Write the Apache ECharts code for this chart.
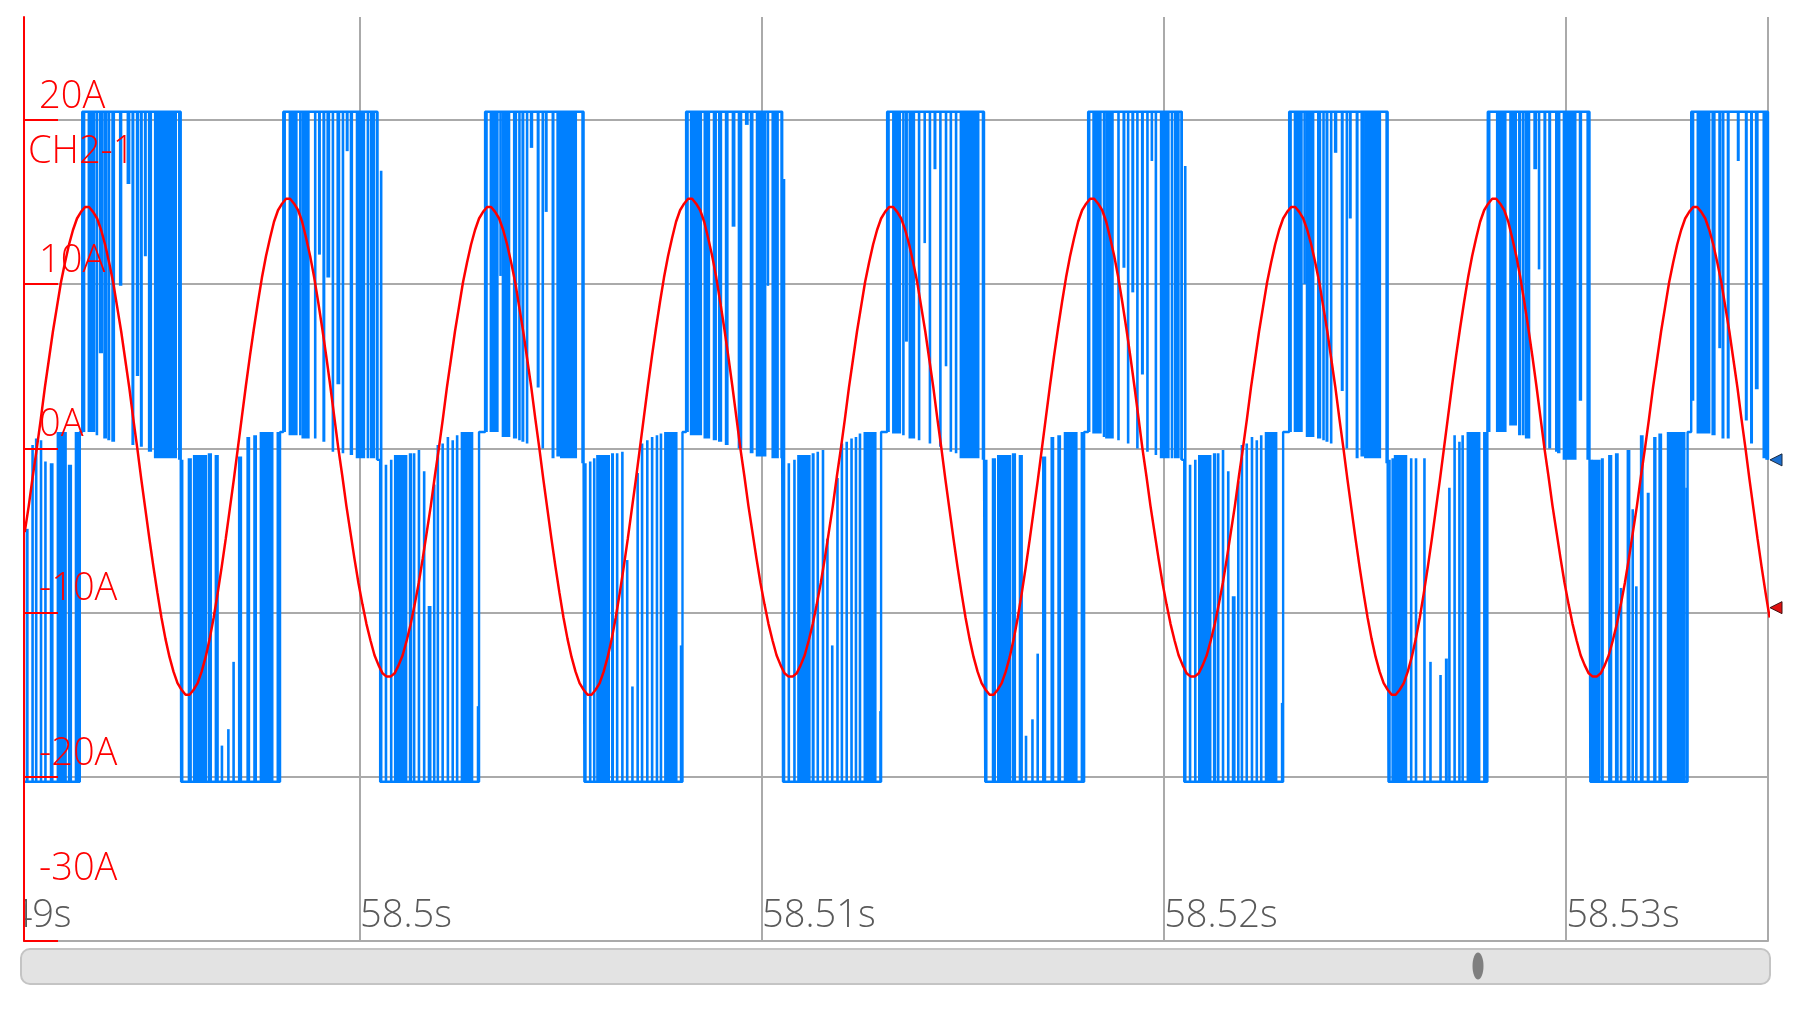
<!DOCTYPE html>
<html>
<head>
<meta charset="utf-8">
<script src="https://cdn.jsdelivr.net/npm/echarts@6/dist/echarts.min.js"></script>
<style>
html,body{margin:0;padding:0;background:#ffffff;}
#chart{width:1804px;height:1014px;}
</style>
</head>
<body>
<div id="chart"></div>
<script>
// ---- axes (time in ms after 58.49 s) ----
const xTickValues = [0, 10, 20, 30, 40];
const xTickLabels = ['58.49s', '58.5s', '58.51s', '58.52s', '58.53s'];
const yTickValues = [-30, -20, -10, 0, 10, 20];
const yTickLabels = ['-30A', '-20A', '-10A', '0A', '10A', '20A'];
const timeMin = 0, timeMax = 45.02;
const ampMin = -30, ampMax = 26.27;

// ---- CH2-1 (red) sampled current, one value every 0.1 ms from 1.66 ms ----
const ch2Start = 1.66, ch2Step = 0.1;
const ch2Current = [
  -5.1,-3.5,-1.7,
  0,1.8,3.7,5.4,7.1,8.6,10.1,11.3,12.4,13.3,14.0,14.4,14.7,14.7,14.4,14.0,13.3,12.4,11.3,10.1,8.6,7.1,5.4,3.7,1.8,
  0,-1.9,-3.7,-5.5,-7.2,-8.8,-10.3,-11.6,-12.7,-13.6,-14.3,-14.7,-15.0,-15.0,-14.7,-14.3,-13.6,-12.7,-11.6,-10.3,-8.8,-7.2,-5.5,-3.7,-1.9,
  0,1.9,3.8,5.6,7.3,8.9,10.4,11.7,12.8,13.8,14.5,14.9,15.2,15.2,14.9,14.5,13.8,12.8,11.7,10.4,8.9,7.3,5.6,3.8,1.9,
  0,-1.7,-3.5,-5.1,-6.7,-8.2,-9.5,-10.7,-11.7,-12.6,-13.2,-13.7,-13.9,-13.9,-13.7,-13.2,-12.6,-11.7,-10.7,-9.5,-8.2,-6.7,-5.1,-3.5,-1.7,
  0,1.8,3.7,5.4,7.1,8.6,10.1,11.3,12.4,13.3,14.0,14.4,14.7,14.7,14.4,14.0,13.3,12.4,11.3,10.1,8.6,7.1,5.4,3.7,1.8,
  0,-1.9,-3.7,-5.5,-7.2,-8.8,-10.3,-11.6,-12.7,-13.6,-14.3,-14.7,-15.0,-15.0,-14.7,-14.3,-13.6,-12.7,-11.6,-10.3,-8.8,-7.2,-5.5,-3.7,-1.9,
  0,1.9,3.8,5.6,7.3,8.9,10.4,11.7,12.8,13.8,14.5,14.9,15.2,15.2,14.9,14.5,13.8,12.8,11.7,10.4,8.9,7.3,5.6,3.8,1.9,
  0,-1.7,-3.5,-5.1,-6.7,-8.2,-9.5,-10.7,-11.7,-12.6,-13.2,-13.7,-13.9,-13.9,-13.7,-13.2,-12.6,-11.7,-10.7,-9.5,-8.2,-6.7,-5.1,-3.5,-1.7,
  0,1.8,3.7,5.4,7.1,8.6,10.1,11.3,12.4,13.3,14.0,14.4,14.7,14.7,14.4,14.0,13.3,12.4,11.3,10.1,8.6,7.1,5.4,3.7,1.8,
  0,-1.9,-3.7,-5.5,-7.2,-8.8,-10.3,-11.6,-12.7,-13.6,-14.3,-14.7,-15.0,-15.0,-14.7,-14.3,-13.6,-12.7,-11.6,-10.3,-8.8,-7.2,-5.5,-3.7,-1.9,
  0,1.9,3.8,5.6,7.3,8.9,10.4,11.7,12.8,13.8,14.5,14.9,15.2,15.2,14.9,14.5,13.8,12.8,11.7,10.4,8.9,7.3,5.6,3.8,1.9,
  0,-1.7,-3.5,-5.1,-6.7,-8.2,-9.5,-10.7,-11.7,-12.6,-13.2,-13.7,-13.9,-13.9,-13.7,-13.2,-12.6,-11.7,-10.7,-9.5,-8.2,-6.7,-5.1,-3.5,-1.7,
  0,1.8,3.7,5.4,7.1,8.6,10.1,11.3,12.4,13.3,14.0,14.4,14.7,14.7,14.4,14.0,13.3,12.4,11.3,10.1,8.6,7.1,5.4,3.7,1.8,
  0,-1.9,-3.7,-5.5,-7.2,-8.8,-10.3,-11.6,-12.7,-13.6,-14.3,-14.7,-15.0,-15.0,-14.7,-14.3,-13.6,-12.7,-11.6,-10.3,-8.8,-7.2,-5.5,-3.7,-1.9,
  0,1.9,3.8,5.6,7.3,8.9,10.4,11.7,12.8,13.8,14.5,14.9,15.2,15.2,14.9,14.5,13.8,12.8,11.7,10.4,8.9,7.3,5.6,3.8,1.9,
  0,-1.7,-3.5,-5.1,-6.7,-8.2,-9.5,-10.7,-11.7,-12.6,-13.2,-13.7,-13.9,-13.9,-13.7,-13.2,-12.6,-11.7,-10.7,-9.5,-8.2,-6.7,-5.1,-3.5,-1.7,
  0,1.8,3.7,5.4,7.1,8.6,10.1,11.3,12.4,13.3,14.0,14.4,14.7,14.7,14.4,14.0,13.3,12.4,11.3,10.1,8.6,7.1,5.4,3.7,1.8,
  0,-1.9,-3.7,-5.5,-7.2,-8.8,-10.3
];

// ---- blue switching current: bursts [start ms, end ms, rail level A] ----
const blueBursts = [
  [1.64,3.03,-20.3],[3.09,5.54,20.5],[5.55,8.01,-20.3],[8.09,10.43,20.5],[10.50,12.96,-20.3],
  [13.11,15.56,20.5],[15.58,18.02,-20.3],[18.11,20.50,20.5],[20.52,22.96,-20.3],[23.11,25.52,20.5],
  [25.55,28.01,-20.3],[28.11,30.44,20.5],[30.50,32.96,-20.3],[33.11,35.56,20.5],[35.58,38.04,-20.3],
  [38.05,40.58,20.5],[40.60,43.02,-20.3],[43.11,45.02,20.5]
];
// level between consecutive bursts, and at the end of the record
const blueGapLevels = [1.0,-0.7,1.0,-0.7,1.0,-0.9,1.0,-0.6,1.0,-0.7,1.0,-0.7,1.0,-0.9,1.0,-0.7,1.0];
const blueEndLevel = -0.7;
// switching stripes [from ms, to ms, level reached A] (from the burst rail)
const blueStripes = [
  // N0
  [1.69,1.75,-4.9],[1.83,1.86,0.2],[1.92,1.96,0.6],[2.04,2.08,0.5],[2.15,2.19,-0.8],[2.29,2.37,-0.9],[2.46,2.70,1.0],[2.74,2.83,-1.0],[2.91,3.03,1.0],
  // P1
  [3.09,3.16,1.0],[3.23,3.41,1.0],[3.43,3.47,0.8],[3.51,3.60,5.8],[3.62,3.70,0.6],[3.72,3.78,0.5],[3.82,3.90,0.4],[4.01,4.08,9.9],[4.20,4.28,16.1],[4.32,4.38,0.2],[4.43,4.50,4.4],[4.53,4.59,0.1],[4.63,4.69,11.7],[4.73,4.82,-0.2],[4.88,5.44,-0.6],[5.48,5.54,-0.7],
  // N1
  [5.55,5.60,-0.7],[5.72,5.81,-0.6],[5.85,6.19,-0.4],[6.22,6.31,-0.3],[6.39,6.48,-0.4],[6.54,6.58,-18.1],[6.70,6.74,-17.1],[6.83,6.87,-13.0],[6.97,7.06,-0.5],[7.18,7.26,0.7],[7.35,7.43,0.8],[7.51,7.84,1.0],[7.93,8.01,1.0],
  // P2
  [8.09,8.15,1.0],[8.23,8.44,0.8],[8.49,8.53,0.8],[8.55,8.74,0.6],[8.86,8.90,0.6],[8.96,9.02,11.8],[9.07,9.13,0.4],[9.17,9.25,10.4],[9.30,9.34,-0.2],[9.42,9.50,3.9],[9.55,9.60,-0.3],[9.65,9.71,18.1],[9.75,9.82,-0.4],[9.90,10.12,-0.6],[10.17,10.22,-0.6],[10.25,10.37,-0.6],[10.40,10.43,-0.7],
  // N2
  [10.50,10.55,16.9],[10.62,10.67,-1.0],[10.75,10.80,-0.7],[10.85,11.17,-0.4],[11.22,11.29,-0.3],[11.32,11.37,-0.3],[11.44,11.49,-0.1],[11.57,11.62,-1.4],[11.69,11.77,-9.6],[11.82,11.87,-2.2],[11.91,11.95,0.2],[12.03,12.07,0.3],[12.16,12.21,0.7],[12.28,12.32,0.5],[12.39,12.44,0.8],[12.51,12.81,1.0],[12.91,12.96,-15.7],
  // P3
  [13.11,13.17,1.0],[13.23,13.44,1.0],[13.47,13.50,10.5],[13.53,13.73,0.7],[13.81,13.90,0.6],[13.94,13.97,0.5],[14.02,14.08,0.4],[14.13,14.16,0.3],[14.23,14.30,18.3],[14.40,14.46,3.7],[14.52,14.55,0.0],[14.60,14.66,14.4],[14.77,14.83,-0.6],[14.89,14.98,-0.5],[14.98,15.39,-0.6],[15.51,15.56,-0.9],
  // N3
  [15.58,15.62,-0.9],[15.70,15.74,-0.8],[15.80,15.84,-0.6],[15.88,16.21,-0.4],[16.25,16.31,-0.3],[16.37,16.42,-0.3],[16.50,16.54,-0.2],[16.62,16.66,-6.8],[16.75,16.79,-14.5],[16.88,16.92,-1.5],[16.99,17.03,0.3],[17.12,17.16,0.5],[17.24,17.29,0.7],[17.36,17.40,0.8],[17.46,17.50,0.9],[17.57,17.89,1.0],[17.96,18.00,-12.0],
  // P4
  [18.11,18.17,1.0],[18.21,18.50,0.8],[18.55,18.70,0.6],[18.78,18.87,0.5],[18.91,19.00,0.4],[19.08,19.16,0.2],[19.25,19.33,13.5],[19.40,19.50,0.0],[19.58,19.66,19.7],[19.70,19.78,-0.3],[19.85,20.10,-0.5],[20.12,20.17,9.9],[20.24,20.41,-0.6],[20.46,20.50,-0.6],
  // N4
  [20.52,20.57,16.4],[20.64,20.68,-0.9],[20.78,20.82,-0.7],[20.88,21.20,-0.4],[21.24,21.30,-0.3],[21.36,21.40,-0.2],[21.49,21.53,-0.1],[21.60,21.64,-5.5],[21.72,21.76,-12.0],[21.85,21.89,-1.8],[21.96,22.00,0.3],[22.08,22.12,0.4],[22.20,22.25,0.6],[22.31,22.35,0.7],[22.41,22.45,0.9],[22.53,22.84,1.0],[22.92,22.96,-16.0],
  // P5
  [23.11,23.17,1.0],[23.24,23.45,0.9],[23.49,23.52,0.8],[23.56,23.62,6.5],[23.65,23.80,0.6],[23.88,23.93,0.5],[24.02,24.07,12.5],[24.15,24.19,0.3],[24.27,24.33,17.0],[24.41,24.46,0.1],[24.55,24.60,5.0],[24.67,24.72,-0.2],[24.80,24.85,-0.3],[24.92,25.40,-0.6],[25.47,25.52,-0.7],
  // N5
  [25.55,25.60,-0.7],[25.72,25.81,-0.6],[25.85,26.19,-0.4],[26.22,26.31,-0.3],[26.39,26.48,-0.4],[26.54,26.58,-17.5],[26.70,26.74,-16.5],[26.83,26.87,-12.5],[26.97,27.06,-0.5],[27.18,27.26,0.7],[27.35,27.43,0.8],[27.51,27.84,1.0],[27.93,28.01,1.0],
  // P6
  [28.11,28.16,1.0],[28.22,28.44,0.9],[28.48,28.51,0.7],[28.54,28.74,0.6],[28.84,28.88,0.5],[28.97,29.03,11.0],[29.08,29.12,0.3],[29.19,29.25,9.5],[29.31,29.35,0.0],[29.43,29.49,4.5],[29.56,29.60,-0.2],[29.67,29.72,17.5],[29.77,29.82,-0.4],[29.90,30.13,-0.6],[30.17,30.22,-0.6],[30.25,30.38,-0.6],[30.41,30.44,-0.7],
  // N6
  [30.50,30.55,17.2],[30.62,30.67,-1.0],[30.75,30.80,-0.7],[30.85,31.17,-0.4],[31.22,31.29,-0.3],[31.32,31.37,-0.3],[31.44,31.49,-0.1],[31.57,31.62,-1.4],[31.69,31.77,-9.0],[31.82,31.87,-2.0],[31.91,31.95,0.2],[32.03,32.07,0.3],[32.16,32.21,0.7],[32.28,32.32,0.5],[32.39,32.44,0.8],[32.51,32.81,1.0],[32.91,32.96,-15.5],
  // P7
  [33.11,33.17,1.0],[33.23,33.44,1.0],[33.47,33.50,10.0],[33.53,33.73,0.7],[33.81,33.90,0.6],[33.94,33.97,0.5],[34.02,34.08,0.4],[34.13,34.16,0.3],[34.23,34.30,18.0],[34.40,34.46,3.5],[34.52,34.55,0.0],[34.60,34.66,14.0],[34.77,34.83,-0.6],[34.89,34.98,-0.5],[34.98,35.39,-0.6],[35.51,35.56,-0.9],
  // N7
  [35.58,35.62,-0.7],[35.66,35.70,-0.6],[35.72,36.04,-0.4],[36.12,36.16,-0.6],[36.24,36.29,-0.6],[36.45,36.49,-0.6],[36.60,36.64,-13.0],[36.85,36.89,-13.8],[36.99,37.05,-12.8],[37.07,37.11,-2.4],[37.20,37.24,0.8],[37.32,37.36,0.4],[37.40,37.45,0.8],[37.53,37.86,1.0],[37.94,38.04,1.0],
  // P8
  [38.05,38.11,1.0],[38.26,38.51,1.0],[38.59,38.77,1.4],[38.81,38.87,0.8],[38.90,38.96,0.8],[38.98,39.10,0.6],[39.19,39.27,17.0],[39.30,39.35,10.9],[39.44,39.50,0.0],[39.56,39.62,0.0],[39.73,39.77,-0.2],[39.78,39.85,-0.3],[39.92,40.25,-0.7],[40.32,40.39,2.9],[40.51,40.58,-0.7],
  // N8
  [40.60,40.64,-0.7],[40.64,40.85,-0.7],[40.87,40.93,-0.6],[41.05,41.14,-0.4],[41.22,41.30,-0.3],[41.34,41.38,-8.5],[41.51,41.59,-0.1],[41.63,41.66,-3.7],[41.72,41.77,-8.4],[41.84,41.92,0.8],[42.01,42.07,-2.7],[42.17,42.24,0.7],[42.30,42.38,0.9],[42.51,42.96,1.0],[42.97,43.02,-2.4],
  // P9
  [43.13,43.18,2.9],[43.25,43.58,0.9],[43.62,43.71,0.8],[43.79,43.85,6.1],[43.87,43.93,0.6],[44.00,44.06,0.6],[44.25,44.31,17.5],[44.45,44.51,1.7],[44.58,44.64,0.3],[44.70,44.78,3.6],[44.89,44.98,-0.6],[44.96,45.02,-0.7]
];

// ---- build series data ----
const BLUE = '#0080ff', RED = '#ff0000', GRID = '#aaaaaa';
const FONT = '"Open Sans", "Noto Sans", sans-serif';

const redData = ch2Current.map((v, i) => [Math.round((ch2Start + i * ch2Step) * 1000) / 1000, v]);
function redAt(t) {
  for (let i = 1; i < redData.length; i++) {
    if (redData[i][0] >= t) {
      const a = redData[i - 1], b = redData[i];
      return a[1] + (b[1] - a[1]) * (t - a[0]) / (b[0] - a[0]);
    }
  }
  return redData[redData.length - 1][1];
}

const envelope = [];
blueBursts.forEach((b, i) => {
  envelope.push([b[0], b[2]], [b[1], b[2]]);
  if (i < blueGapLevels.length) {
    envelope.push([b[1], blueGapLevels[i]], [blueBursts[i + 1][0], blueGapLevels[i]]);
  }
});
const lastBurst = blueBursts[blueBursts.length - 1];
envelope.push([lastBurst[1], blueEndLevel]);

function railFor(t) {
  let rail = blueBursts[0][2];
  for (const b of blueBursts) { if (b[0] <= t + 0.03) rail = b[2]; }
  return rail;
}
const stripeData = blueStripes.map(s => [s[0], s[1], railFor(s[0]), s[2]]);

const chart = echarts.init(document.getElementById('chart'), null, { renderer: 'canvas' });

const labelBase = { fontSize: 38, fontFamily: FONT, fontWeight: 300 };

chart.setOption({
  animation: false,
  backgroundColor: '#ffffff',
  grid: { left: -42, right: 36, top: 17, bottom: 73, show: false, containLabel: false, outerBoundsMode: 'none' },
  xAxis: {
    type: 'value', min: timeMin, max: timeMax, interval: 10,
    axisLine: { show: true, onZero: false, lineStyle: { color: GRID, width: 2 } },
    axisTick: { show: false },
    splitLine: { show: true, lineStyle: { color: GRID, width: 2 } },
    axisLabel: Object.assign({
      inside: true, margin: 0, align: 'left', verticalAlign: 'bottom', lineHeight: 50,
      color: '#5a5a5a', showMaxLabel: false,
      formatter: v => { const k = xTickValues.indexOf(Math.round(v * 1000) / 1000); return k >= 0 ? xTickLabels[k] : ''; }
    }, labelBase)
  },
  yAxis: [
    {
      type: 'value', min: ampMin, max: ampMax, interval: 10, position: 'left', z: 0,
      axisLine: { show: false, onZero: false }, axisTick: { show: false }, axisLabel: { show: false },
      splitLine: { show: true, showMaxLine: false, lineStyle: { color: [GRID, GRID, GRID, GRID, GRID, GRID, 'rgba(0,0,0,0)'], width: 2 } }
    },
    {
      type: 'value', min: ampMin, max: ampMax, interval: 10, position: 'left', offset: -66, z: 10,
      axisLine: { show: true, onZero: false, lineStyle: { color: RED, width: 2 } },
      axisTick: { show: true, inside: true, length: 34, customValues: yTickValues, lineStyle: { color: RED, width: 2 } },
      splitLine: { show: false },
      axisLabel: {
        inside: true, margin: 15, align: 'left', verticalAlign: 'bottom', customValues: yTickValues,
        formatter: v => {
          const k = yTickValues.indexOf(Math.round(v));
          if (k < 0) return '';
          return (k === 0 ? '{far|' : '{n|') + yTickLabels[k] + '}';
        },
        rich: {
          n: Object.assign({ color: RED, lineHeight: 46 }, labelBase),
          far: Object.assign({ color: RED, lineHeight: 46, padding: [0, 0, 98, 0] }, labelBase)
        }
      }
    }
  ],
  series: [
    {
      name: 'CH1', type: 'line', data: envelope, yAxisIndex: 0, symbol: 'none', z: 2,
      lineStyle: { color: BLUE, width: 2.4 }, itemStyle: { color: BLUE },
      markPoint: {
        symbol: 'triangle', symbolSize: [12, 12], symbolRotate: 90, symbolOffset: [8, 0], silent: true,
        itemStyle: { color: '#1a6fd0', borderColor: '#1b2a40', borderWidth: 1 },
        label: { show: false },
        data: [{ coord: [timeMax, blueEndLevel] }]
      }
    },
    {
      name: 'CH1 switching', type: 'custom', data: stripeData, yAxisIndex: 0, z: 2, clip: true,
      encode: { x: [0, 1], y: [2, 3] },
      renderItem: (params, api) => {
        const a = api.coord([api.value(0), api.value(2)]);
        const b = api.coord([api.value(1), api.value(3)]);
        const w = Math.max(Math.abs(b[0] - a[0]) + 0.6, 2.6);
        return {
          type: 'rect',
          shape: { x: Math.min(a[0], b[0]) - 0.3, y: Math.min(a[1], b[1]), width: w, height: Math.abs(b[1] - a[1]) },
          style: { fill: BLUE }
        };
      }
    },
    {
      name: 'CH2-1', type: 'line', data: redData, yAxisIndex: 0, symbol: 'none', z: 3,
      lineStyle: { color: RED, width: 2.5 }, itemStyle: { color: RED },
      markPoint: {
        symbol: 'triangle', symbolSize: [12, 12], symbolRotate: 90, symbolOffset: [8, 0], silent: true,
        itemStyle: { color: '#e01010', borderColor: '#401010', borderWidth: 1 },
        label: { show: false },
        data: [{ coord: [timeMax, redAt(timeMax)] }]
      }
    }
  ],
  graphic: [
    { type: 'rect', z: 5, silent: true, shape: { x: 0, y: 0, width: 23, height: 946 }, style: { fill: '#ffffff' } },
    { type: 'rect', z: 5, silent: true, shape: { x: 21, y: 949, width: 1749, height: 35, r: 9 }, style: { fill: '#e3e3e3', stroke: '#c4c4c4', lineWidth: 2 } },
    { type: 'ellipse', z: 6, silent: true, shape: { cx: 1478, cy: 966, rx: 5.5, ry: 13.5 }, style: { fill: '#7f7f7f' } },
    { type: 'text', z: 10, silent: true, x: 28, y: 152, style: { text: 'CH2-1', fill: RED, fontSize: 38, fontFamily: FONT, fontWeight: 300, verticalAlign: 'middle' } }
  ]
});
</script>
</body>
</html>
